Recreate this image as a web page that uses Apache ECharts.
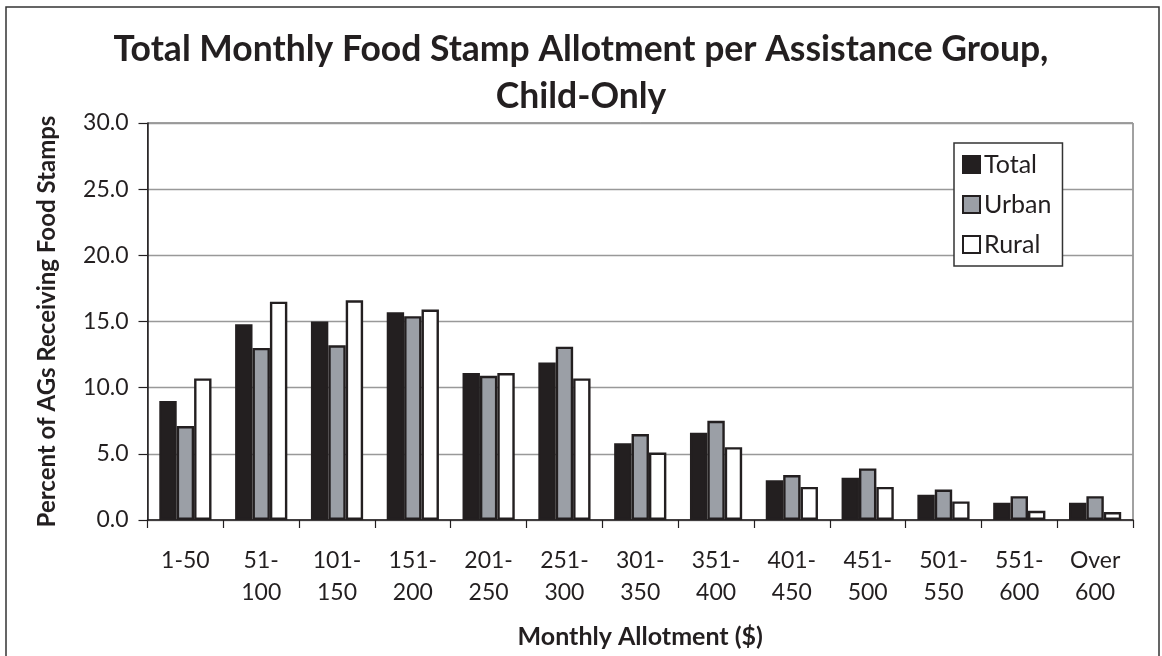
<!DOCTYPE html>
<html>
<head>
<meta charset="utf-8">
<script src="https://cdn.jsdelivr.net/npm/echarts@6/dist/echarts.min.js"></script>
<style>
  html, body { margin: 0; padding: 0; background: #fff; }
  #chart { width: 1162px; height: 656px; }
</style>
</head>
<body>
<div id="chart"></div>
<script>
const categories = ['1-50', '51-\n100', '101-\n150', '151-\n200', '201-\n250', '251-\n300', '301-\n350', '351-\n400', '401-\n450', '451-\n500', '501-\n550', '551-\n600', 'Over\n600'];
const totalValues = [9.0, 14.8, 15.0, 15.7, 11.1, 11.9, 5.8, 6.6, 3.0, 3.2, 1.9, 1.3, 1.3];
const urbanValues = [7.1, 13.0, 13.2, 15.4, 10.9, 13.1, 6.5, 7.5, 3.4, 3.9, 2.3, 1.8, 1.8];
const ruralValues = [10.7, 16.5, 16.6, 15.9, 11.1, 10.7, 5.1, 5.5, 2.5, 2.5, 1.4, 0.7, 0.6];
const seriesNames = ['Total', 'Urban', 'Rural'];
const yTicks = { min: 0, max: 30, interval: 5 };

const FONT = 'Lato, "Open Sans", sans-serif';
const INK = '#231f20';

const chart = echarts.init(document.getElementById('chart'), null, { renderer: 'canvas' });

function barSeries(name, data, fill) {
  return {
    name: name,
    type: 'bar',
    data: data,
    barWidth: 17.4,
    barGap: '0%',
    itemStyle: { color: fill, borderColor: INK, borderWidth: 2.4 },
    emphasis: { disabled: true }
  };
}

chart.setOption({
  animation: false,
  backgroundColor: '#fff',
  title: {
    text: 'Total Monthly Food Stamp Allotment per Assistance Group,\nChild-Only',
    left: 'center',
    top: 21,
    textStyle: { fontFamily: FONT, fontWeight: 'bold', fontSize: 35.5, lineHeight: 47, color: INK }
  },
  graphic: [{
    type: 'rect',
    shape: { x: 6, y: 7, width: 1153, height: 700 },
    style: { fill: 'none', stroke: '#333', lineWidth: 1.5 },
    silent: true
  }],
  legend: {
    orient: 'vertical',
    left: 954,
    top: 143,
    icon: 'rect',
    itemWidth: 17,
    itemHeight: 17,
    itemGap: 15,
    padding: [9, 11, 9, 8],
    borderColor: '#333',
    borderWidth: 1.5,
    backgroundColor: '#fff',
    selectedMode: false,
    textStyle: { fontFamily: FONT, fontSize: 25, lineHeight: 24, color: INK, padding: [0, 0, 0, -1] },
    data: seriesNames
  },
  grid: {
    left: 147.5,
    top: 123,
    right: 29,
    bottom: 136,
    show: true,
    borderColor: '#444',
    borderWidth: 1,
    containLabel: false
  },
  xAxis: {
    type: 'category',
    data: categories,
    name: 'Monthly Allotment ($)',
    nameLocation: 'middle',
    nameGap: 104,
    nameTextStyle: { fontFamily: FONT, fontWeight: 'bold', fontSize: 25, color: INK },
    axisLine: { lineStyle: { color: INK, width: 1.5 } },
    axisTick: { show: true, length: 8, lineStyle: { color: INK, width: 1.2 } },
    axisLabel: { fontFamily: FONT, fontSize: 23, lineHeight: 32, color: INK, margin: 25, interval: 0 }
  },
  yAxis: {
    type: 'value',
    min: yTicks.min,
    max: yTicks.max,
    interval: yTicks.interval,
    name: 'Percent of AGs Receiving Food Stamps',
    nameLocation: 'middle',
    nameGap: 88,
    nameTextStyle: { fontFamily: FONT, fontWeight: 'bold', fontSize: 24, color: INK },
    axisLine: { show: true, lineStyle: { color: INK, width: 1.5 } },
    axisTick: { show: true, length: 9, lineStyle: { color: INK, width: 1.2 } },
    axisLabel: { fontFamily: FONT, fontSize: 23, color: INK, margin: 19, formatter: v => v.toFixed(1) },
    splitLine: { show: true, lineStyle: { color: '#999999', width: 1.3 } }
  },
  series: [
    barSeries(seriesNames[0], totalValues, INK),
    barSeries(seriesNames[1], urbanValues, '#9b9fa6'),
    barSeries(seriesNames[2], ruralValues, '#ffffff')
  ]
});
</script>
</body>
</html>
